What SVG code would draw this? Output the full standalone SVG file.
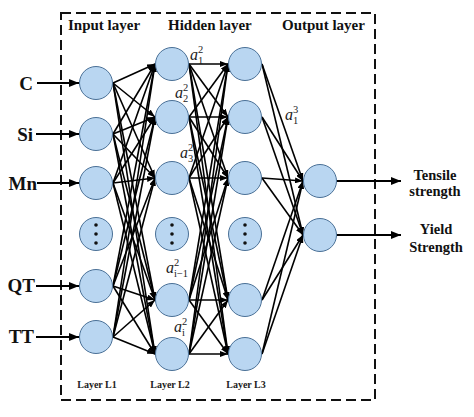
<svg xmlns="http://www.w3.org/2000/svg" width="474" height="417" viewBox="0 0 474 417">
<style>
.node{fill:#b9d6f1;stroke:#4a7096;stroke-width:1}
.conn line{stroke:#000;stroke-width:1.6;marker-end:url(#ah)}
.io line{stroke:#000;stroke-width:2.2;marker-end:url(#ahb)}
.hdr{font-family:"Liberation Serif",serif;font-weight:bold;font-size:15px;fill:#111}
.inl{font-family:"Liberation Serif",serif;font-weight:bold;font-size:19px;fill:#111}
.outl{font-family:"Liberation Serif",serif;font-weight:bold;font-size:14.5px;fill:#111;text-anchor:middle}
.lay{font-family:"Liberation Serif",serif;font-weight:bold;font-size:10px;fill:#222;text-anchor:middle}
.a{font-family:"Liberation Serif",serif;font-style:italic;font-size:16px;fill:#222}
.s{font-family:"Liberation Serif",serif;font-size:10.5px;fill:#222}
.dot{fill:#111}
</style>
<defs>
<marker id="ah" markerUnits="userSpaceOnUse" markerWidth="8" markerHeight="6" refX="8" refY="3" orient="auto"><path d="M0,0 L8,3 L0,6 z" fill="#000"/></marker>
<marker id="ahb" markerUnits="userSpaceOnUse" markerWidth="10" markerHeight="8" refX="10" refY="4" orient="auto"><path d="M0,0 L10,4 L0,8 z" fill="#000"/></marker>
</defs>
<rect width="474" height="417" fill="#fff"/>
<rect x="61" y="13" width="314" height="387" fill="none" stroke="#111" stroke-width="2" stroke-dasharray="10,5"/>
<text class="hdr" x="68" y="30">Input layer</text>
<text class="hdr" x="168" y="30">Hidden layer</text>
<text class="hdr" x="282" y="30">Output layer</text>
<g id="connectors">
<g class="conn">
<line x1="113" y1="83" x2="155" y2="64"/><line x1="113" y1="83" x2="155" y2="117"/><line x1="113" y1="83" x2="155" y2="178"/><line x1="113" y1="83" x2="155" y2="300"/><line x1="113" y1="83" x2="155" y2="354"/>
<line x1="113" y1="134" x2="155" y2="64"/><line x1="113" y1="134" x2="155" y2="117"/><line x1="113" y1="134" x2="155" y2="178"/><line x1="113" y1="134" x2="155" y2="300"/><line x1="113" y1="134" x2="155" y2="354"/>
<line x1="113" y1="183" x2="155" y2="64"/><line x1="113" y1="183" x2="155" y2="117"/><line x1="113" y1="183" x2="155" y2="178"/><line x1="113" y1="183" x2="155" y2="300"/><line x1="113" y1="183" x2="155" y2="354"/>
<line x1="113" y1="286" x2="155" y2="64"/><line x1="113" y1="286" x2="155" y2="117"/><line x1="113" y1="286" x2="155" y2="178"/><line x1="113" y1="286" x2="155" y2="300"/><line x1="113" y1="286" x2="155" y2="354"/>
<line x1="113" y1="337" x2="155" y2="64"/><line x1="113" y1="337" x2="155" y2="117"/><line x1="113" y1="337" x2="155" y2="178"/><line x1="113" y1="337" x2="155" y2="300"/><line x1="113" y1="337" x2="155" y2="354"/>
<line x1="189" y1="64" x2="228" y2="64"/><line x1="189" y1="64" x2="228" y2="117"/><line x1="189" y1="64" x2="228" y2="178"/><line x1="189" y1="64" x2="228" y2="300"/><line x1="189" y1="64" x2="228" y2="354"/>
<line x1="189" y1="117" x2="228" y2="64"/><line x1="189" y1="117" x2="228" y2="117"/><line x1="189" y1="117" x2="228" y2="178"/><line x1="189" y1="117" x2="228" y2="300"/><line x1="189" y1="117" x2="228" y2="354"/>
<line x1="189" y1="178" x2="228" y2="64"/><line x1="189" y1="178" x2="228" y2="117"/><line x1="189" y1="178" x2="228" y2="178"/><line x1="189" y1="178" x2="228" y2="300"/><line x1="189" y1="178" x2="228" y2="354"/>
<line x1="189" y1="300" x2="228" y2="64"/><line x1="189" y1="300" x2="228" y2="117"/><line x1="189" y1="300" x2="228" y2="178"/><line x1="189" y1="300" x2="228" y2="300"/><line x1="189" y1="300" x2="228" y2="354"/>
<line x1="189" y1="354" x2="228" y2="64"/><line x1="189" y1="354" x2="228" y2="117"/><line x1="189" y1="354" x2="228" y2="178"/><line x1="189" y1="354" x2="228" y2="300"/><line x1="189" y1="354" x2="228" y2="354"/>
<line x1="262" y1="64" x2="303" y2="181"/><line x1="262" y1="64" x2="303" y2="235"/>
<line x1="262" y1="117" x2="303" y2="181"/><line x1="262" y1="117" x2="303" y2="235"/>
<line x1="262" y1="178" x2="303" y2="181"/><line x1="262" y1="178" x2="303" y2="235"/>
<line x1="262" y1="300" x2="303" y2="181"/><line x1="262" y1="300" x2="303" y2="235"/>
<line x1="262" y1="354" x2="303" y2="181"/><line x1="262" y1="354" x2="303" y2="235"/>
</g>
<g class="io">
<line x1="37" y1="83" x2="79" y2="83"/><line x1="36" y1="134" x2="79" y2="134"/><line x1="37" y1="183" x2="79" y2="183"/><line x1="36" y1="286" x2="79" y2="286"/><line x1="36" y1="337" x2="79" y2="337"/>
<line x1="337" y1="181" x2="401" y2="181"/><line x1="337" y1="235" x2="401" y2="235"/>
</g>
</g>
<g id="in-C"><circle class="node" cx="96" cy="83" r="16.5"/><text class="inl" x="33" y="90" text-anchor="end">C</text></g>
<g id="in-Si"><circle class="node" cx="96" cy="134" r="16.5"/><text class="inl" x="33" y="141" text-anchor="end">Si</text></g>
<g id="in-Mn"><circle class="node" cx="96" cy="183" r="16.5"/><text class="inl" x="37" y="190" text-anchor="end">Mn</text></g>
<g id="in-dots"><circle class="node" cx="96" cy="234" r="16.5"/><circle class="dot" cx="96" cy="225" r="1.8"/><circle class="dot" cx="96" cy="234" r="1.8"/><circle class="dot" cx="96" cy="243" r="1.8"/></g>
<g id="in-QT"><circle class="node" cx="96" cy="286" r="16.5"/><text class="inl" x="35" y="292" text-anchor="end">QT</text></g>
<g id="in-TT"><circle class="node" cx="96" cy="337" r="16.5"/><text class="inl" x="34" y="343" text-anchor="end">TT</text></g>
<g id="h2-1"><circle class="node" cx="172" cy="64" r="16.5"/><text class="a" x="190" y="60">a</text><text class="s" x="198" y="53">2</text><text class="s" x="198" y="64">1</text></g>
<g id="h2-2"><circle class="node" cx="172" cy="117" r="16.5"/><text class="a" x="175" y="98">a</text><text class="s" x="183" y="91">2</text><text class="s" x="183" y="102">2</text></g>
<g id="h2-3"><circle class="node" cx="172" cy="178" r="16.5"/><text class="a" x="180" y="158">a</text><text class="s" x="188" y="151">2</text><text class="s" x="188" y="162">3</text></g>
<g id="h2-dots"><circle class="node" cx="172" cy="234" r="16.5"/><circle class="dot" cx="172" cy="225" r="1.8"/><circle class="dot" cx="172" cy="234" r="1.8"/><circle class="dot" cx="172" cy="243" r="1.8"/></g>
<g id="h2-4"><circle class="node" cx="172" cy="300" r="16.5"/><text class="a" x="166" y="273">a</text><text class="s" x="174" y="266">2</text><text class="s" x="174" y="277">i−1</text></g>
<g id="h2-5"><circle class="node" cx="172" cy="354" r="16.5"/><text class="a" x="174" y="332">a</text><text class="s" x="182" y="325">2</text><text class="s" x="182" y="336">i</text></g>
<g id="h3-1"><circle class="node" cx="245" cy="64" r="16.5"/></g>
<g id="h3-2"><circle class="node" cx="245" cy="117" r="16.5"/></g>
<g id="h3-3"><circle class="node" cx="245" cy="178" r="16.5"/></g>
<g id="h3-dots"><circle class="node" cx="245" cy="234" r="16.5"/><circle class="dot" cx="245" cy="225" r="1.8"/><circle class="dot" cx="245" cy="234" r="1.8"/><circle class="dot" cx="245" cy="243" r="1.8"/></g>
<g id="h3-4"><circle class="node" cx="245" cy="300" r="16.5"/></g>
<g id="h3-5"><circle class="node" cx="245" cy="354" r="16.5"/></g>
<g id="a13"><text class="a" x="285" y="120">a</text><text class="s" x="293" y="113">3</text><text class="s" x="293" y="124">1</text></g>
<g id="out-1"><circle class="node" cx="320" cy="181" r="16.5"/><text class="outl" x="435" y="180">Tensile</text><text class="outl" x="435" y="196">strength</text></g>
<g id="out-2"><circle class="node" cx="320" cy="235" r="16.5"/><text class="outl" x="436" y="234">Yield</text><text class="outl" x="436" y="252">Strength</text></g>
<text class="lay" x="97" y="388">Layer L1</text>
<text class="lay" x="170" y="388">Layer L2</text>
<text class="lay" x="246" y="388">Layer L3</text>
</svg>
